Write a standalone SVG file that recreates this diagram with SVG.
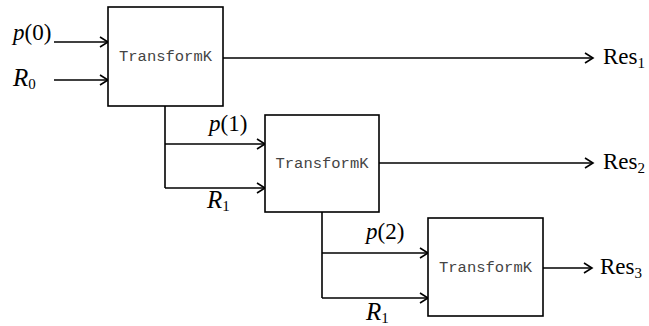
<svg xmlns="http://www.w3.org/2000/svg" width="649" height="326" viewBox="0 0 649 326">
<style>
.box{fill:#fff;stroke:#000;stroke-width:1.6}
.ln{fill:none;stroke:#000;stroke-width:1.6}
.arr{marker-end:url(#ah)}
.tk{font-family:"Liberation Mono",monospace;font-size:15.5px;fill:#444;text-anchor:middle;dominant-baseline:central}
.lb{font-family:"Liberation Serif",serif;font-size:23px;fill:#000}
.it{font-style:italic}
.big{font-size:25px}
.sub{font-size:15px}
</style>
<defs>
<marker id="ah" markerWidth="12" markerHeight="12" refX="10" refY="6" orient="auto" markerUnits="userSpaceOnUse">
<path d="M2,1 L10,6 L2,11" fill="none" stroke="#000" stroke-width="1.6"/>
</marker>
</defs>
<rect width="649" height="326" fill="#fff"/>
<g id="connectors">
<line class="ln arr" x1="54" y1="42" x2="108" y2="42"/>
<line class="ln arr" x1="54" y1="80" x2="108" y2="80"/>
<line class="ln arr" x1="223" y1="58" x2="593" y2="58"/>
<polyline class="ln" points="165,106 165,188"/>
<line class="ln arr" x1="165" y1="144" x2="265" y2="144"/>
<line class="ln arr" x1="165" y1="188" x2="265" y2="188"/>
<line class="ln arr" x1="379" y1="163" x2="593" y2="163"/>
<polyline class="ln" points="322,212 322,298"/>
<line class="ln arr" x1="322" y1="253" x2="428" y2="253"/>
<line class="ln arr" x1="322" y1="298" x2="428" y2="298"/>
<line class="ln arr" x1="543" y1="268" x2="592" y2="268"/>
</g>
<g id="node1">
<rect class="box" x="108" y="7" width="115" height="99"/>
<text class="tk" x="165.5" y="57">TransformK</text>
</g>
<g id="node2">
<rect class="box" x="265" y="115" width="114" height="97"/>
<text class="tk" x="322" y="164">TransformK</text>
</g>
<g id="node3">
<rect class="box" x="428" y="218" width="115" height="98"/>
<text class="tk" x="485.5" y="268">TransformK</text>
</g>
<g id="labels">
<text class="lb" x="13" y="40"><tspan class="it">p</tspan>(0)</text>
<text class="lb" x="13" y="86"><tspan class="it big">R</tspan><tspan class="sub" dy="3">0</tspan></text>
<text class="lb" x="209" y="131"><tspan class="it">p</tspan>(1)</text>
<text class="lb" x="207" y="208"><tspan class="it big">R</tspan><tspan class="sub" dy="3">1</tspan></text>
<text class="lb" x="366" y="239"><tspan class="it">p</tspan>(2)</text>
<text class="lb" x="366" y="320"><tspan class="it big">R</tspan><tspan class="sub" dy="3">1</tspan></text>
<text class="lb" x="603" y="64">Res<tspan class="sub" dy="4">1</tspan></text>
<text class="lb" x="603" y="169">Res<tspan class="sub" dy="4">2</tspan></text>
<text class="lb" x="600" y="274">Res<tspan class="sub" dy="4">3</tspan></text>
</g>
</svg>
